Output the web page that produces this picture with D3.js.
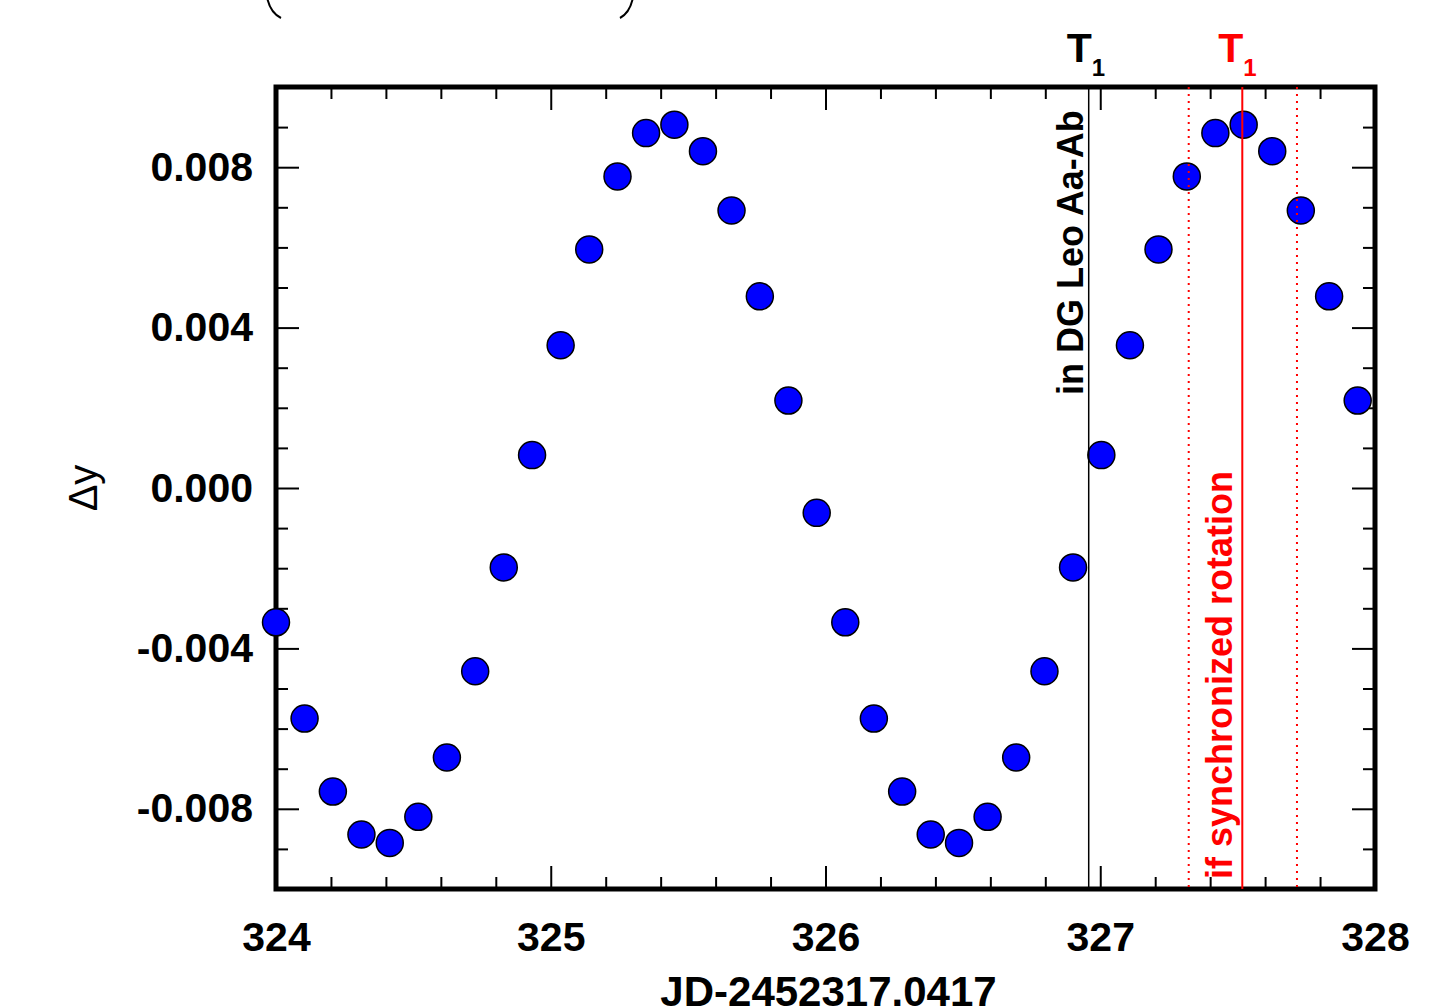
<!DOCTYPE html>
<html>
<head>
<meta charset="utf-8">
<script src="https://cdn.jsdelivr.net/npm/d3@7"></script>
<style>
  html, body { margin: 0; padding: 0; background: #fff; }
  svg { display: block; font-family: "Liberation Sans", Arial, Helvetica, sans-serif; }
</style>
</head>
<body>
<svg></svg>
<script>
// readings taken off the figure
var jd = [324.000, 324.104, 324.207, 324.311, 324.414, 324.518, 324.622, 324.725, 324.829, 324.932,
          325.036, 325.140, 325.243, 325.347, 325.450, 325.554, 325.658, 325.761, 325.865, 325.968,
          326.072, 326.176, 326.279, 326.383, 326.486, 326.590, 326.694, 326.797, 326.901, 327.004,
          327.108, 327.212, 327.315, 327.419, 327.522, 327.626, 327.730, 327.833, 327.937];
var dy = [-0.00335, -0.00575, -0.00757, -0.00864, -0.00885, -0.00820, -0.00672, -0.00457, -0.00198, 0.00082,
          0.00356, 0.00595, 0.00777, 0.00885, 0.00906, 0.00840, 0.00692, 0.00478, 0.00218, -0.00062,
          -0.00335, -0.00575, -0.00757, -0.00864, -0.00885, -0.00820, -0.00672, -0.00457, -0.00198, 0.00082,
          0.00356, 0.00595, 0.00777, 0.00885, 0.00906, 0.00840, 0.00692, 0.00478, 0.00218];

var xTicks = [324, 325, 326, 327, 328];
var xMinor = [324.2, 324.4, 324.6, 324.8, 325.2, 325.4, 325.6, 325.8, 326.2, 326.4, 326.6, 326.8,
              327.2, 327.4, 327.6, 327.8];
var yTicks = [-0.008, -0.004, 0, 0.004, 0.008];
var yMinor = [-0.009, -0.007, -0.006, -0.005, -0.003, -0.002, -0.001, 0.001, 0.002, 0.003,
              0.005, 0.006, 0.007, 0.009];

var t1Black = 326.958;          // T1 in DG Leo Aa-Ab
var t1Red = 327.517;            // T1 if synchronized rotation
var t1RedBand = [327.322, 327.716];

var W = 1448, H = 1007;
var plotL = 276, plotR = 1375, plotT = 87, plotB = 889;

var svg = d3.select('svg')
    .attr('width', W)
    .attr('height', H);

var x = d3.scaleLinear().domain([324, 328]).range([plotL, plotR]);
var y = d3.scaleLinear().domain([-0.01, 0.01]).range([plotB, plotT]);

// bits of a formula above the plot (cut off in the figure)
svg.append('path')
    .attr('d', 'M266,-12 Q267,11 281,18')
    .attr('fill', 'none').attr('stroke', '#000').attr('stroke-width', 2);
svg.append('path')
    .attr('d', 'M634,-12 Q633,11 620,18')
    .attr('fill', 'none').attr('stroke', '#000').attr('stroke-width', 2);

var fmtY = function(d) { return d.toFixed(3); };

function styleAxis(g) {
    g.select('.domain').remove();
    g.selectAll('.tick line').attr('stroke', '#000').attr('stroke-width', 2);
    g.selectAll('.tick text')
        .attr('fill', '#000')
        .attr('font-size', 41)
        .attr('font-weight', 'bold')
        .attr('font-family', '"Liberation Sans", Arial, sans-serif');
}

// bottom
svg.append('g').attr('transform', 'translate(0,' + plotB + ')')
    .call(d3.axisBottom(x).tickValues(xTicks).tickSize(-23).tickPadding(33).tickFormat(d3.format('d')))
    .call(styleAxis);
svg.append('g').attr('transform', 'translate(0,' + plotB + ')')
    .call(d3.axisBottom(x).tickValues(xMinor).tickSize(-12).tickFormat(''))
    .call(styleAxis);
// top
svg.append('g').attr('transform', 'translate(0,' + plotT + ')')
    .call(d3.axisTop(x).tickValues(xTicks).tickSize(-23).tickFormat(''))
    .call(styleAxis);
svg.append('g').attr('transform', 'translate(0,' + plotT + ')')
    .call(d3.axisTop(x).tickValues(xMinor).tickSize(-12).tickFormat(''))
    .call(styleAxis);
// left
svg.append('g').attr('transform', 'translate(' + plotL + ',0)')
    .call(d3.axisLeft(y).tickValues(yTicks).tickSize(-23).tickPadding(23).tickFormat(fmtY))
    .call(styleAxis);
svg.append('g').attr('transform', 'translate(' + plotL + ',0)')
    .call(d3.axisLeft(y).tickValues(yMinor).tickSize(-12).tickFormat(''))
    .call(styleAxis);
// right
svg.append('g').attr('transform', 'translate(' + plotR + ',0)')
    .call(d3.axisRight(y).tickValues(yTicks).tickSize(-23).tickFormat(''))
    .call(styleAxis);
svg.append('g').attr('transform', 'translate(' + plotR + ',0)')
    .call(d3.axisRight(y).tickValues(yMinor).tickSize(-12).tickFormat(''))
    .call(styleAxis);

// frame
svg.append('rect')
    .attr('x', plotL).attr('y', plotT)
    .attr('width', plotR - plotL).attr('height', plotB - plotT)
    .attr('fill', 'none').attr('stroke', '#000').attr('stroke-width', 5);

// data points
svg.append('g').selectAll('circle')
    .data(jd)
    .join('circle')
    .attr('cx', function(d) { return x(d); })
    .attr('cy', function(d, i) { return y(dy[i]); })
    .attr('r', 13.5)
    .attr('fill', '#0000ff')
    .attr('stroke', '#000')
    .attr('stroke-width', 1.5);

// T1 markers
svg.append('line')
    .attr('x1', x(t1Black)).attr('x2', x(t1Black))
    .attr('y1', plotT).attr('y2', plotB)
    .attr('stroke', '#000').attr('stroke-width', 1.5);
svg.append('line')
    .attr('x1', x(t1Red)).attr('x2', x(t1Red))
    .attr('y1', plotT).attr('y2', plotB)
    .attr('stroke', '#ff0000').attr('stroke-width', 2);
svg.append('g').selectAll('line')
    .data(t1RedBand)
    .join('line')
    .attr('x1', function(d) { return x(d); }).attr('x2', function(d) { return x(d); })
    .attr('y1', plotT).attr('y2', plotB)
    .attr('stroke', '#ff0000').attr('stroke-width', 2)
    .attr('stroke-dasharray', '2,5');

function tLabel(xpos, color) {
    var t = svg.append('text')
        .attr('x', xpos - 22).attr('y', 61.5)
        .attr('fill', color)
        .attr('font-weight', 'bold')
        .attr('font-size', 41);
    t.append('tspan').text('T');
    t.append('tspan').attr('font-size', 24).attr('dy', 14).text('1');
}
tLabel(x(t1Black), '#000');
tLabel(x(t1Red) - 2, '#ff0000');

svg.append('text')
    .attr('transform', 'translate(' + (x(t1Black) - 6) + ',' + 395 + ') rotate(-90)')
    .attr('fill', '#000')
    .attr('font-weight', 'bold')
    .attr('font-size', 36)
    .text('in DG Leo Aa-Ab');

svg.append('text')
    .attr('transform', 'translate(' + (x(t1Red) - 10) + ',' + (plotB - 10) + ') rotate(-90)')
    .attr('fill', '#ff0000')
    .attr('font-weight', 'bold')
    .attr('font-size', 36)
    .text('if synchronized rotation');

// axis titles
svg.append('text')
    .attr('transform', 'translate(97,' + y(0) + ') rotate(-90)')
    .attr('text-anchor', 'middle')
    .attr('font-size', 40)
    .attr('fill', '#000')
    .text('\u0394y');

svg.append('text')
    .attr('x', (plotL + plotR) / 2 + 3)
    .attr('y', 1006)
    .attr('text-anchor', 'middle')
    .attr('font-size', 42)
    .attr('font-weight', 'bold')
    .attr('fill', '#000')
    .text('JD-2452317.0417');
</script>
</body>
</html>
